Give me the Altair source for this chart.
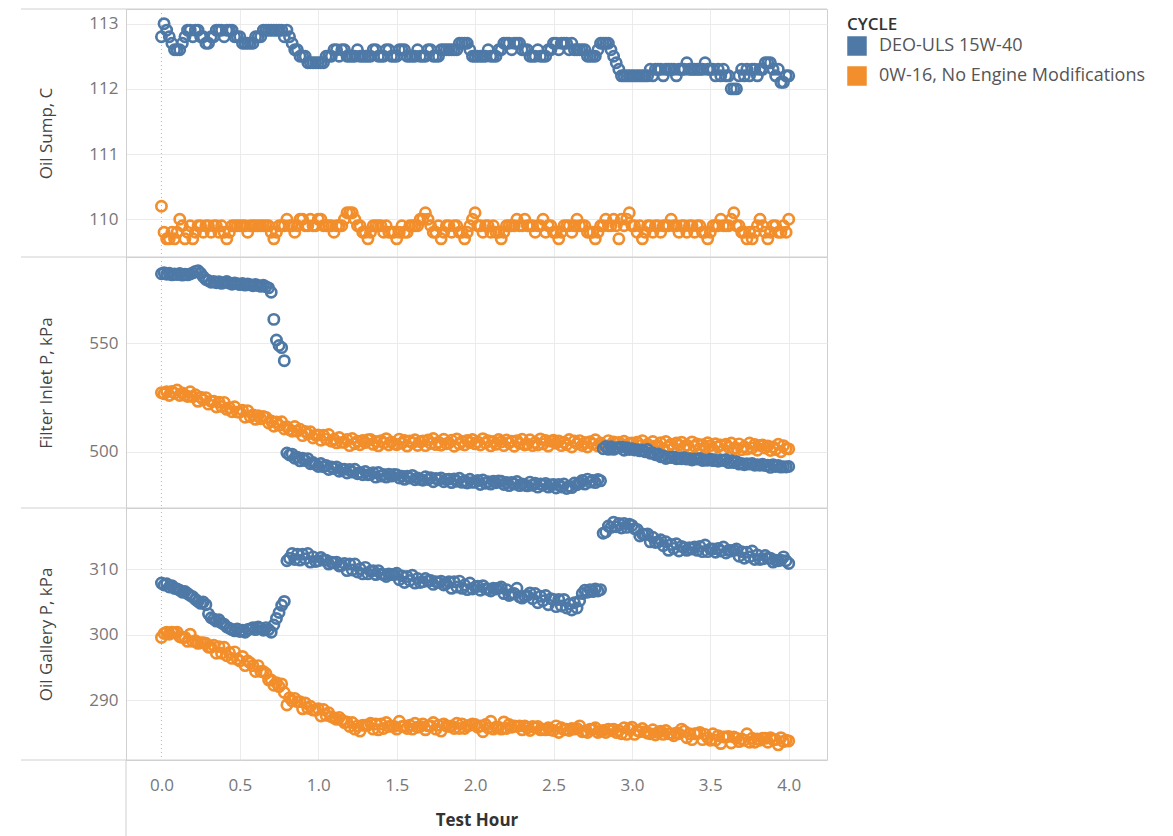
import altair as alt
import pandas as pd

CYCLES = ["DEO-ULS 15W-40", "0W-16, No Engine Modifications"]
CYCLE_COLORS = ["#4e79a7", "#f28e2b"]
MEASURES = ["Oil Sump, C", "Filter Inlet P, kPa", "Oil Gallery P, kPa"]

# one reading per minute of test time (0 .. 240 min)
MINUTES = list(range(0, 241))

SUMP_DEO = [
    112.8, 113.0, 112.9, 112.8, 112.7, 112.6, 112.6, 112.6, 112.7, 112.8,
    112.9, 112.9, 112.8, 112.9, 112.9, 112.8, 112.8, 112.7, 112.7, 112.8,
    112.8, 112.9, 112.9, 112.9, 112.8, 112.9, 112.9, 112.9, 112.8, 112.8,
    112.8, 112.7, 112.7, 112.7, 112.7, 112.7, 112.8, 112.8, 112.8, 112.9,
    112.9, 112.9, 112.9, 112.9, 112.9, 112.9, 112.9, 112.8, 112.9, 112.8,
    112.7, 112.6, 112.6, 112.5, 112.5, 112.5, 112.4, 112.4, 112.4, 112.4,
    112.4, 112.4, 112.4, 112.5, 112.5, 112.5, 112.6, 112.6, 112.5, 112.6,
    112.6, 112.5, 112.5, 112.5, 112.5, 112.6, 112.5, 112.5, 112.5, 112.5,
    112.5, 112.6, 112.6, 112.5, 112.5, 112.5, 112.6, 112.6, 112.5, 112.5,
    112.5, 112.6, 112.6, 112.6, 112.5, 112.5, 112.5, 112.5, 112.6, 112.5,
    112.5, 112.5, 112.6, 112.6, 112.5, 112.5, 112.5, 112.6, 112.6, 112.6,
    112.6, 112.6, 112.6, 112.6, 112.7, 112.7, 112.7, 112.7, 112.6, 112.5,
    112.5, 112.5, 112.5, 112.5, 112.5, 112.6, 112.5, 112.5, 112.5, 112.6,
    112.6, 112.7, 112.7, 112.7, 112.6, 112.7, 112.7, 112.7, 112.6, 112.6,
    112.6, 112.5, 112.5, 112.5, 112.6, 112.5, 112.5, 112.5, 112.6, 112.6,
    112.7, 112.7, 112.6, 112.7, 112.7, 112.7, 112.6, 112.7, 112.6, 112.6,
    112.6, 112.6, 112.6, 112.5, 112.5, 112.5, 112.5, 112.6, 112.7, 112.7,
    112.7, 112.7, 112.6, 112.5, 112.4, 112.3, 112.2, 112.2, 112.2, 112.2,
    112.2, 112.2, 112.2, 112.2, 112.2, 112.2, 112.2, 112.3, 112.2, 112.3,
    112.3, 112.3, 112.2, 112.3, 112.3, 112.3, 112.3, 112.2, 112.3, 112.3,
    112.3, 112.4, 112.3, 112.3, 112.3, 112.3, 112.3, 112.3, 112.4, 112.3,
    112.3, 112.3, 112.2, 112.3, 112.2, 112.3, 112.2, 112.2, 112.0, 112.0,
    112.0, 112.2, 112.3, 112.2, 112.3, 112.2, 112.3, 112.3, 112.2, 112.3,
    112.3, 112.4, 112.4, 112.4, 112.3, 112.2, 112.3, 112.1, 112.1, 112.2,
    112.2,
]

SUMP_0W16 = [
    110.2, 109.8, 109.7, 109.7, 109.8, 109.7, 109.8, 110.0, 109.9, 109.7,
    109.8, 109.9, 109.7, 109.8, 109.9, 109.9, 109.8, 109.9, 109.9, 109.8,
    109.9, 109.9, 109.8, 109.9, 109.8, 109.7, 109.8, 109.9, 109.9, 109.9,
    109.9, 109.9, 109.9, 109.8, 109.9, 109.9, 109.9, 109.9, 109.9, 109.9,
    109.9, 109.9, 109.8, 109.7, 109.8, 109.9, 109.9, 109.9, 110.0, 109.9,
    109.9, 109.8, 109.9, 110.0, 110.0, 109.9, 109.9, 110.0, 109.9, 109.9,
    110.0, 110.0, 109.9, 109.9, 109.9, 109.9, 109.8, 109.9, 109.9, 109.9,
    110.0, 110.1, 110.1, 110.1, 110.0, 109.9, 109.9, 109.8, 109.8, 109.7,
    109.8, 109.9, 109.9, 109.9, 109.9, 109.8, 109.9, 109.8, 109.8, 109.8,
    109.7, 109.8, 109.9, 109.8, 109.8, 109.9, 109.9, 109.9, 109.9, 110.0,
    110.0, 110.1, 110.0, 109.9, 109.8, 109.8, 109.9, 109.7, 109.8, 109.9,
    109.9, 109.8, 109.9, 109.9, 109.8, 109.8, 109.7, 109.8, 109.9, 110.0,
    110.1, 109.9, 109.9, 109.8, 109.9, 109.9, 109.8, 109.9, 109.8, 109.8,
    109.7, 109.8, 109.9, 109.9, 109.9, 109.9, 110.0, 109.9, 109.9, 110.0,
    109.9, 109.9, 109.9, 109.8, 109.9, 109.9, 110.0, 109.8, 109.9, 109.9,
    109.8, 109.8, 109.7, 109.8, 109.9, 109.9, 109.9, 109.8, 109.9, 110.0,
    109.9, 109.9, 109.9, 109.8, 109.8, 109.8, 109.7, 109.8, 109.9, 109.9,
    110.0, 109.9, 109.9, 110.0, 109.9, 109.7, 110.0, 109.9, 110.0, 110.1,
    109.9, 109.9, 109.8, 109.9, 109.7, 109.8, 109.9, 109.9, 109.8, 109.9,
    109.9, 109.8, 109.9, 109.9, 109.9, 110.0, 109.9, 109.9, 109.8, 109.9,
    109.9, 109.8, 109.9, 109.9, 109.8, 109.9, 109.9, 109.8, 109.8, 109.7,
    109.8, 109.9, 109.9, 109.9, 110.0, 109.9, 109.9, 109.9, 110.0, 110.1,
    109.9, 109.9, 109.8, 109.8, 109.7, 109.8, 109.7, 109.8, 109.9, 110.0,
    109.9, 109.8, 109.7, 109.8, 109.9, 109.9, 109.8, 109.8, 109.9, 109.8,
    110.0,
]

FILTER_DEO = [
    582.0, 582.5, 581.8, 582.2, 581.5, 581.9, 581.6, 582.1, 581.4, 581.8,
    581.5, 581.9, 582.4, 583.1, 583.4, 582.2, 580.6, 579.4, 578.8, 578.1,
    578.5, 577.9, 578.3, 577.6, 578.0, 578.4, 577.7, 577.2, 577.8, 577.4,
    577.0, 577.5, 576.8, 577.3, 576.9, 576.5, 577.1, 576.6, 576.2, 576.7,
    576.0, 575.5, 573.5, 561.0, 551.5, 549.0, 548.0, 542.0, 499.5, 498.6,
    499.0, 497.1, 497.6, 495.9, 497.1, 496.0, 496.9, 494.6, 495.1, 494.2,
    493.3, 494.7, 493.2, 493.8, 491.9, 493.1, 492.4, 493.1, 491.1, 492.0,
    492.0, 490.3, 491.9, 490.7, 492.0, 490.0, 490.6, 489.5, 491.0, 489.5,
    489.6, 490.4, 488.4, 490.5, 488.9, 489.6, 488.4, 489.7, 488.9, 489.6,
    489.5, 488.0, 488.8, 487.4, 488.8, 488.0, 489.2, 487.2, 488.0, 487.3,
    487.0, 488.6, 487.3, 488.1, 486.3, 487.8, 487.2, 488.0, 486.3, 487.3,
    487.5, 485.9, 487.6, 486.5, 487.9, 486.0, 486.7, 485.7, 487.4, 486.0,
    486.1, 486.9, 485.0, 487.1, 485.6, 486.3, 485.2, 486.5, 485.8, 486.6,
    486.5, 485.0, 485.9, 484.5, 485.9, 485.2, 486.4, 484.5, 485.3, 484.7,
    484.4, 486.1, 484.7, 485.6, 483.8, 485.2, 484.7, 485.5, 483.8, 484.8,
    485.0, 483.4, 485.0, 483.9, 485.2, 483.2, 484.2, 483.6, 485.7, 484.9,
    485.6, 486.9, 485.2, 487.5, 486.1, 486.9, 485.9, 487.3, 486.7, 501.5,
    502.5, 501.2, 502.4, 501.2, 501.8, 501.9, 502.3, 500.8, 501.9, 501.1,
    501.5, 500.9, 501.0, 500.5, 500.9, 500.1, 501.1, 499.4, 499.5, 498.7,
    499.1, 497.8, 498.1, 497.0, 497.6, 497.4, 497.7, 496.9, 497.1, 496.9,
    497.3, 496.7, 496.9, 496.3, 496.8, 496.7, 497.0, 496.1, 496.3, 496.2,
    496.6, 496.0, 496.2, 495.7, 496.2, 496.1, 496.4, 495.1, 496.0, 495.1,
    495.6, 494.4, 494.7, 494.1, 494.6, 494.4, 494.7, 493.9, 494.1, 493.9,
    494.3, 493.7, 493.9, 492.9, 494.1, 493.3, 493.8, 493.0, 493.2, 493.1,
    493.3,
]

FILTER_0W16 = [
    527.3, 526.8, 527.7, 526.0, 527.8, 527.0, 528.5, 526.0, 527.1, 526.2,
    525.5, 527.7, 525.4, 526.3, 523.3, 525.2, 524.0, 525.0, 522.0, 523.3,
    523.3, 520.7, 522.9, 520.9, 522.8, 519.6, 520.3, 518.5, 520.8, 518.4,
    518.3, 519.2, 516.0, 519.0, 516.2, 517.0, 515.0, 516.7, 515.3, 516.3,
    515.9, 513.3, 514.2, 511.8, 513.8, 512.3, 513.9, 510.6, 511.6, 510.3,
    509.5, 511.7, 509.5, 510.4, 507.5, 509.4, 508.3, 509.3, 506.4, 507.7,
    507.8, 505.4, 507.7, 505.9, 508.0, 504.9, 505.8, 504.2, 506.6, 504.4,
    504.5, 505.7, 502.9, 506.2, 503.8, 504.9, 503.3, 505.3, 504.3, 505.6,
    505.7, 503.5, 504.8, 502.8, 505.2, 504.1, 506.1, 503.2, 504.6, 503.7,
    503.3, 505.9, 504.0, 505.3, 502.7, 505.0, 504.2, 505.6, 503.0, 504.7,
    505.1, 502.9, 505.5, 503.9, 506.2, 503.4, 504.5, 503.1, 505.8, 503.8,
    504.1, 505.4, 502.6, 506.0, 503.6, 504.8, 503.2, 505.3, 504.3, 505.7,
    503.7, 504.6, 503.2, 506.1, 504.1, 505.2, 502.8, 504.8, 503.5, 505.7,
    504.6, 502.9, 505.5, 504.1, 504.9, 502.6, 505.2, 503.9, 505.8, 503.2,
    503.6, 505.6, 502.9, 504.3, 503.2, 506.0, 503.7, 505.3, 502.7, 504.9,
    505.4, 504.0, 505.0, 502.9, 504.5, 503.3, 505.7, 502.3, 505.1, 503.8,
    505.2, 503.0, 504.3, 502.3, 504.7, 503.6, 505.6, 502.7, 504.1, 503.2,
    502.6, 505.2, 503.3, 504.6, 502.0, 504.3, 503.5, 504.9, 502.3, 504.0,
    504.1, 501.9, 504.5, 502.9, 505.2, 502.4, 503.5, 502.1, 504.8, 502.8,
    502.9, 504.2, 501.4, 504.8, 502.4, 503.6, 502.0, 504.1, 503.1, 504.5,
    502.2, 503.1, 501.7, 504.6, 502.6, 503.7, 501.3, 503.3, 502.0, 504.2,
    502.9, 501.2, 503.8, 502.4, 503.2, 500.9, 503.5, 502.2, 504.1, 501.5,
    501.7, 503.7, 501.0, 502.4, 501.3, 504.1, 501.8, 503.4, 500.8, 503.0,
    503.2, 501.8, 502.8, 500.7, 502.3, 501.1, 503.5, 500.1, 502.9, 501.6,
    501.4,
]

GALLERY_DEO = [
    307.9, 307.6, 307.8, 307.3, 307.5, 307.1, 307.0, 306.8, 306.5, 306.6,
    306.3, 306.0, 305.8, 305.4, 305.1, 304.8, 305.0, 304.6, 303.2, 302.6,
    302.4, 302.1, 302.3, 301.8, 301.6, 301.2, 301.0, 300.8, 300.6, 300.9,
    300.5, 300.7, 300.4, 300.8, 300.9, 301.1, 300.8, 301.2, 301.0, 300.7,
    301.1, 300.8, 300.4, 301.5, 302.5, 303.4, 304.5, 305.1, 311.3, 311.7,
    312.4, 311.5, 312.3, 311.4, 312.3, 311.6, 312.4, 311.1, 311.9, 311.2,
    311.3, 311.8, 311.4, 311.4, 310.8, 311.1, 311.0, 311.1, 310.5, 310.6,
    310.9, 309.8, 310.8, 309.9, 310.8, 309.6, 310.1, 309.3, 310.3, 309.3,
    309.7, 309.8, 309.2, 309.8, 309.3, 309.2, 308.9, 309.3, 309.2, 309.2,
    309.4, 308.4, 309.0, 308.0, 308.9, 308.3, 309.1, 307.9, 308.6, 308.0,
    308.1, 308.6, 308.2, 308.3, 307.7, 308.1, 308.0, 308.2, 307.6, 307.8,
    308.1, 307.1, 308.1, 307.3, 308.2, 307.1, 307.6, 306.9, 307.9, 307.0,
    307.3, 307.4, 306.8, 307.5, 307.0, 307.0, 306.7, 307.1, 307.0, 307.1,
    307.3, 306.3, 306.9, 306.0, 306.2, 306.3, 307.1, 305.8, 305.6, 305.9,
    306.0, 306.4, 305.5, 306.3, 304.9, 305.9, 305.2, 306.0, 304.6, 305.5,
    305.4, 304.3, 305.4, 304.4, 305.4, 304.1, 304.7, 303.8, 304.9, 304.1,
    305.2, 306.3, 306.8, 306.5, 306.9, 306.6, 307.0, 306.7, 306.9, 315.5,
    315.7, 316.6, 316.4, 317.2, 316.5, 317.0, 316.3, 317.0, 316.4, 316.9,
    316.7, 316.2, 316.1, 315.1, 315.4, 315.3, 315.4, 314.2, 314.9, 314.1,
    314.2, 314.5, 313.6, 314.2, 312.9, 313.8, 313.2, 313.9, 312.8, 313.5,
    313.3, 312.9, 313.3, 313.1, 313.4, 312.9, 313.5, 312.7, 313.7, 312.7,
    313.1, 313.1, 312.6, 313.2, 312.8, 313.4, 312.5, 312.9, 312.8, 312.9,
    313.1, 312.0, 312.7, 311.7, 312.6, 311.9, 312.8, 311.5, 312.2, 311.5,
    311.6, 312.1, 311.7, 311.7, 311.1, 311.4, 311.3, 311.4, 311.9, 311.3,
    310.9,
]

GALLERY_0W16 = [
    299.6, 300.2, 300.4, 300.1, 300.4, 300.3, 300.4, 299.7, 299.6, 299.6,
    299.0, 300.1, 299.0, 299.1, 298.7, 298.8, 298.8, 298.7, 298.1, 298.1,
    298.4, 297.2, 298.2, 297.2, 298.1, 296.8, 297.3, 296.4, 297.4, 296.3,
    296.0, 296.7, 295.3, 296.0, 295.7, 295.3, 294.4, 295.3, 294.4, 294.4,
    294.1, 293.1, 293.1, 292.3, 292.7, 292.1, 292.5, 291.2, 289.3, 290.4,
    289.9, 290.3, 289.8, 289.8, 288.7, 289.6, 288.8, 289.1, 288.5, 288.5,
    288.7, 287.6, 288.6, 287.7, 288.1, 287.5, 287.3, 287.1, 287.4, 287.0,
    286.6, 286.7, 286.0, 286.6, 285.6, 286.1, 285.3, 286.2, 286.2, 286.2,
    286.5, 285.6, 286.4, 285.5, 286.4, 285.7, 286.6, 286.0, 286.1, 286.0,
    285.6, 286.8, 286.0, 286.1, 285.7, 286.2, 285.6, 286.5, 285.9, 286.0,
    286.4, 285.5, 286.1, 286.1, 286.6, 285.6, 286.2, 285.3, 286.4, 286.1,
    286.0, 286.1, 285.7, 286.5, 285.7, 286.4, 285.7, 286.1, 286.2, 286.4,
    286.3, 285.9, 286.1, 285.2, 286.3, 285.8, 286.8, 285.6, 285.9, 285.9,
    285.6, 286.7, 285.7, 286.3, 285.9, 286.1, 286.0, 286.1, 285.5, 286.1,
    285.8, 285.4, 286.0, 285.8, 286.0, 285.5, 285.6, 285.5, 285.8, 285.5,
    285.4, 286.1, 285.1, 285.8, 285.5, 285.6, 285.4, 285.7, 285.6, 285.7,
    286.1, 285.2, 285.3, 285.1, 285.6, 285.6, 285.8, 285.1, 285.3, 285.4,
    285.1, 285.6, 285.4, 285.6, 285.1, 285.4, 284.9, 285.8, 284.8, 285.6,
    285.9, 284.8, 285.4, 285.2, 285.7, 285.2, 285.0, 284.9, 285.5, 284.7,
    285.1, 285.3, 284.8, 285.4, 284.9, 284.9, 284.6, 285.0, 284.9, 285.6,
    285.3, 284.3, 284.9, 284.0, 284.9, 284.9, 285.1, 284.0, 284.8, 284.3,
    283.9, 284.9, 283.9, 284.6, 283.4, 284.4, 284.4, 284.5, 283.5, 284.4,
    284.2, 283.7, 284.1, 283.9, 284.9, 283.6, 284.2, 283.6, 284.1, 283.9,
    284.2, 284.2, 283.6, 284.3, 284.0, 284.0, 283.2, 284.3, 283.7, 283.9,
    283.8,
]

X_TICKS = [0.0, 0.5, 1.0, 1.5, 2.0, 2.5, 3.0, 3.5, 4.0]
SUMP_TICKS = [110, 111, 112, 113]
FILTER_TICKS = [500, 550]
GALLERY_TICKS = [290, 300, 310]

FONT = "Open Sans"
BORDER = "#d0d0d0"
GRID = "#ebebeb"
W = 701
X_DOMAIN = [-0.226, 4.244]
LEFT_EXT = 105


def frame(deo, ow):
    rows = []
    for name, vals in ((CYCLES[1], ow), (CYCLES[0], deo)):
        for m, v in zip(MINUTES, vals):
            rows.append({"Test Hour": m / 60.0, "Value": v, "CYCLE": name})
    return pd.DataFrame(rows)


ONE = pd.DataFrame({"Test Hour": [0.0]})


def panel(deo, ow, title, ticks, ydom, h, bottom, show_legend):
    df = frame(deo, ow)
    xkw = dict(
        values=X_TICKS, ticks=False, domain=False, grid=True, gridColor=GRID,
        gridOpacity={"condition": {"test": "datum.value === 0", "value": 0}, "value": 1},
    )
    if bottom:
        xaxis = alt.Axis(
            title="Test Hour", format=".1f", labels=True, labelFontSize=17,
            labelColor="#777777", labelPadding=17, titleFontSize=17,
            titleFontWeight="bold", titleColor="#333333", titlePadding=19, **xkw
        )
    else:
        xaxis = alt.Axis(title=None, labels=False, **xkw)
    yaxis = alt.Axis(
        values=ticks, format=".0f", title=title, ticks=False, domain=True,
        domainColor=BORDER, grid=True, gridColor=GRID, labelFontSize=17,
        labelColor="#777777", labelPadding=8, titleFontSize=17,
        titleFontWeight="normal", titleColor="#444444", titleAngle=270,
        titleX=-80, titleBaseline="middle", titleAlign="center",
    )
    x_enc = alt.X("Test Hour:Q", scale=alt.Scale(domain=X_DOMAIN, nice=False, zero=False), axis=xaxis)
    y_enc = alt.Y("Value:Q", scale=alt.Scale(domain=ydom, nice=False, zero=False), axis=yaxis)
    # stroke colour of the hollow circles (domain taken from the data, ordered like the legend)
    pts = alt.Chart(df).mark_point(
        shape="circle", filled=False, size=105, strokeWidth=2.7, opacity=1
    ).encode(
        x=x_enc,
        y=y_enc,
        color=alt.Color("CYCLE:N", sort=CYCLES, scale=alt.Scale(range=CYCLE_COLORS), legend=None),
    )
    zero = alt.Chart(ONE).mark_rule(color="#b5b5b5", strokeDash=[1, 3], strokeWidth=1).encode(
        x=alt.X("Test Hour:Q")
    )
    top_rule = alt.Chart(ONE).mark_rule(color=BORDER, strokeWidth=1).encode(
        x=alt.value(-LEFT_EXT), x2=alt.value(W), y=alt.value(0)
    )
    layers = [zero, pts, top_rule]
    if show_legend:
        legend = alt.Legend(
            title="CYCLE", orient="right", offset=11, padding=8,
            symbolType="square", symbolSize=380, symbolStrokeWidth=0, symbolOpacity=1,
            labelFontSize=18, labelColor="#555555", labelOffset=12, labelLimit=400,
            titleFontSize=17, titleFontWeight=600, titleColor="#333333",
            titlePadding=2, rowPadding=10,
        )
        # legend-only layer: every row filtered out, the legend comes from the fill scale
        layers.append(alt.Chart(df).transform_filter("false").mark_square().encode(
            x=alt.X("Test Hour:Q"),
            y=alt.Y("Value:Q"),
            fill=alt.Fill("CYCLE:N", scale=alt.Scale(domain=CYCLES, range=CYCLE_COLORS), legend=legend),
        ))
    if bottom:
        layers.append(alt.Chart(ONE).mark_rule(color=BORDER, strokeWidth=1).encode(
            x=alt.value(-LEFT_EXT), x2=alt.value(W), y=alt.value(h)
        ))
        layers.append(alt.Chart(ONE).mark_rule(color=BORDER, strokeWidth=1).encode(
            x=alt.value(0), y=alt.value(h), y2=alt.value(h + 77)
        ))
    return alt.layer(*layers).properties(width=W, height=h)


p1 = panel(SUMP_DEO, SUMP_0W16, MEASURES[0], SUMP_TICKS, [109.421, 113.225], 248, False, True)
p2 = panel(FILTER_DEO, FILTER_0W16, MEASURES[1], FILTER_TICKS, [474.20, 589.71], 251, False, False)
p3 = panel(GALLERY_DEO, GALLERY_0W16, MEASURES[2], GALLERY_TICKS, [280.89, 319.36], 252, True, False)

chart = alt.vconcat(p1, p2, p3, spacing=0, bounds="flush").properties(
    padding={"left": 12, "top": 0, "right": 5, "bottom": 0}
).configure_view(stroke=BORDER, strokeWidth=1).configure_axis(
    labelFont=FONT, titleFont=FONT
).configure_legend(labelFont=FONT, titleFont=FONT)

chart.save("out.html", embed_options={"renderer": "svg", "actions": False})
